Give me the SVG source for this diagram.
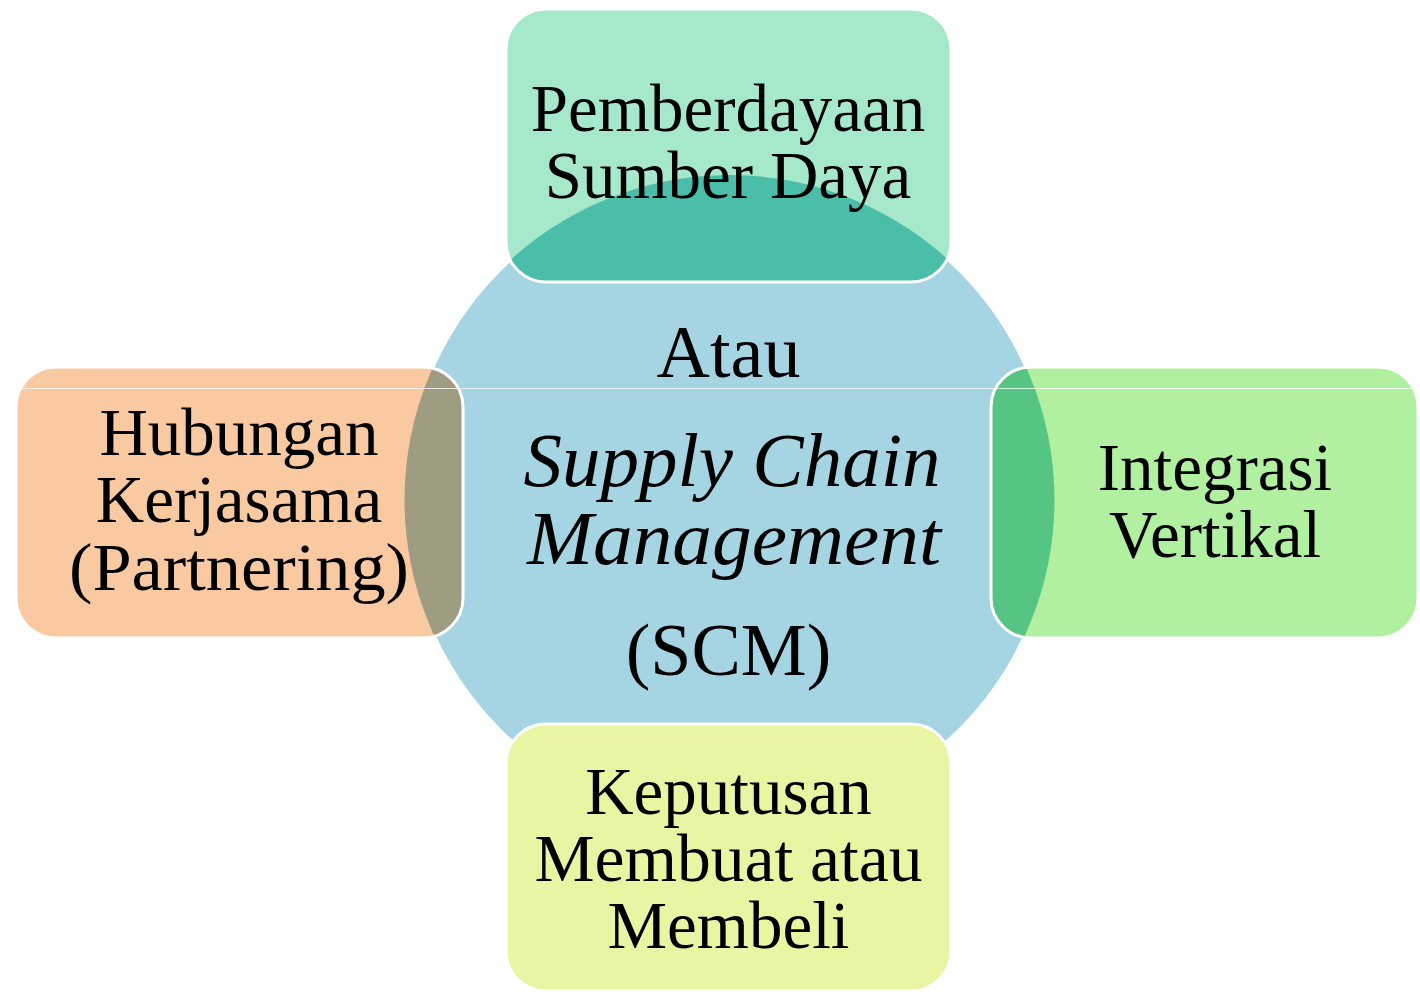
<svg xmlns="http://www.w3.org/2000/svg" width="1420" height="992" viewBox="0 0 1420 992">
  <style>
    .hub { fill: #A5D5E2; stroke: #FFFFFF; stroke-width: 3; }
    .edge { fill: none; stroke: #FFFFFF; stroke-width: 3; }
    .lbl { font-family: "Liberation Serif", "Times New Roman", serif; font-size: 67px; fill: #000000; text-anchor: middle; }
    .core { font-family: "Liberation Serif", "Times New Roman", serif; font-size: 74px; fill: #000000; text-anchor: middle; }
    .core-i { font-style: italic; font-size: 77px; }
    .rule { stroke: #FFFFFF; stroke-opacity: 0.75; stroke-width: 1.2; }
  </style>
  <defs>
    <clipPath id="clip-top"><rect x="506" y="9" width="445" height="273" rx="40"/></clipPath>
    <clipPath id="clip-left"><rect x="16" y="367" width="447" height="271" rx="40"/></clipPath>
    <clipPath id="clip-right"><rect x="991" y="367" width="427" height="271" rx="40"/></clipPath>
  </defs>

  <rect width="1420" height="992" fill="#FFFFFF"/>

  <!-- central hub -->
  <g id="hub">
    <circle class="hub" cx="729.5" cy="500" r="325"/>
  </g>

  <!-- no explicit connectors: the boxes overlap the hub directly -->
  <g id="connectors"></g>

  <g id="node-top">
    <rect x="506" y="9" width="445" height="273" rx="40" fill="#A6E9CA"/>
    <circle cx="729.5" cy="500" r="325" fill="#4BBEAA" clip-path="url(#clip-top)"/>
    <rect class="edge" x="506" y="9" width="445" height="273" rx="40"/>
    <text class="lbl" x="728" y="131">Pemberdayaan</text>
    <text class="lbl" x="728" y="198">Sumber Daya</text>
  </g>

  <g id="node-left">
    <rect x="16" y="367" width="447" height="271" rx="40" fill="#F9CAA2"/>
    <circle cx="729.5" cy="500" r="325" fill="#9E9C81" clip-path="url(#clip-left)"/>
    <rect class="edge" x="16" y="367" width="447" height="271" rx="40"/>
    <text class="lbl" x="239" y="455">Hubungan</text>
    <text class="lbl" x="239" y="522">Kerjasama</text>
    <text class="lbl" x="239" y="590" textLength="340" lengthAdjust="spacingAndGlyphs">(Partnering)</text>
  </g>

  <g id="node-right">
    <rect x="991" y="367" width="427" height="271" rx="40" fill="#B1F0A1"/>
    <circle cx="729.5" cy="500" r="325" fill="#56C583" clip-path="url(#clip-right)"/>
    <rect class="edge" x="991" y="367" width="427" height="271" rx="40"/>
    <text class="lbl" x="1215" y="490">Integrasi</text>
    <text class="lbl" x="1215" y="557">Vertikal</text>
  </g>

  <g id="node-bottom">
    <rect x="506" y="724" width="445" height="267" rx="40" fill="#E9F5A3"/>
    <rect class="edge" x="506" y="724" width="445" height="267" rx="40"/>
    <text class="lbl" x="728.5" y="814">Keputusan</text>
    <text class="lbl" x="728.5" y="881" textLength="388" lengthAdjust="spacingAndGlyphs">Membuat atau</text>
    <text class="lbl" x="728.5" y="948">Membeli</text>
  </g>

  <!-- hub label -->
  <g id="hub-label">
    <text class="core" x="728.5" y="377">Atau</text>
    <text class="core core-i" x="732" y="486">Supply Chain</text>
    <text class="core core-i" x="734" y="564" textLength="414" lengthAdjust="spacingAndGlyphs">Management</text>
    <text class="core" x="728.5" y="675">(SCM)</text>
  </g>

  <line class="rule" x1="17" y1="388.5" x2="1416" y2="388.5"/>
</svg>
